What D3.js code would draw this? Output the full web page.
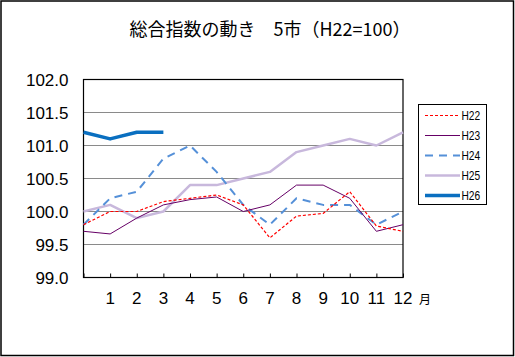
<!DOCTYPE html>
<html><head><meta charset="utf-8">
<script src="https://cdn.jsdelivr.net/npm/d3@7"></script>
<style>
html,body{margin:0;padding:0;background:#fff;}
svg{display:block;}
text{font-family:"Liberation Sans","Noto Sans CJK JP",sans-serif;}
</style></head>
<body>
<script>
const months = [0,1,2,3,4,5,6,7,8,9,10,11,12];
const xTickLabels = ["","1","2","3","4","5","6","7","8","9","10","11","12"];
const yTicks = [99.0,99.5,100.0,100.5,101.0,101.5,102.0];
const seriesNames = ["H22","H23","H24","H25","H26"];
const H22 = [99.8,100.0,100.0,100.15,100.2,100.25,100.1,99.6,99.93,99.97,100.3,99.78,99.7];
const H23 = [99.7,99.66,99.9,100.1,100.18,100.22,100.0,100.1,100.4,100.4,100.2,99.7,99.8];
const H24 = [99.8,100.2,100.3,100.8,101.0,100.6,100.1,99.8,100.2,100.1,100.1,99.8,100.0];
const H25 = [100.0,100.1,99.9,100.0,100.4,100.4,100.5,100.6,100.9,101.0,101.1,101.0,101.2];
const H26 = [101.2,101.1,101.2,101.2];
const title = "総合指数の動き　5市（H22=100）";

const styles = {
  H22:{color:"#ff0000",width:1.2,dash:"3,2"},
  H23:{color:"#660066",width:1,dash:null},
  H24:{color:"#5590d8",width:2,dash:"8,6"},
  H25:{color:"#c8b8dc",width:2.5,dash:null},
  H26:{color:"#0a6fc0",width:3.5,dash:null}
};
const data = {H22,H23,H24,H25,H26};

const W=515,H=357;
const svg=d3.select("body").append("svg").attr("width",W).attr("height",H);
svg.append("rect").attr("x",1).attr("y",1).attr("width",512.5).attr("height",354.5)
  .attr("fill","#fff").attr("stroke","#000").attr("stroke-width",1.5);

const L=83.5,R=403,T=79.5,B=277.5;
const x=d3.scaleLinear().domain([0,12]).range([L,R]);
const y=d3.scaleLinear().domain([99,102]).range([B,T]);

svg.append("g").selectAll("line").data(yTicks.filter(v=>v>99&&v<102)).join("line")
  .attr("x1",L).attr("x2",R).attr("y1",d=>y(d)).attr("y2",d=>y(d))
  .attr("stroke","#8a8a8a").attr("stroke-width",1);

svg.append("g").selectAll("text").data(yTicks).join("text")
  .attr("x",68.5).attr("y",d=>y(d)).attr("dy","0.36em").attr("text-anchor","end")
  .attr("font-size",17).text(d=>d.toFixed(1));

const xAxis=d3.axisBottom(x).tickValues(months).tickSize(-4).tickFormat("");
const gx=svg.append("g").attr("transform",`translate(0,${B})`).call(xAxis);
gx.select(".domain").remove();
gx.selectAll("line").attr("stroke","#000");
svg.append("g").selectAll("text").data(months.filter(m=>m>0)).join("text")
  .attr("x",d=>x(d)).attr("y",298).attr("dy","0.36em").attr("text-anchor","middle")
  .attr("font-size",17).text(d=>xTickLabels[d]);
svg.append("text").attr("x",425).attr("y",300).attr("dy","0.36em").attr("text-anchor","middle")
  .attr("font-size",12).style("font-family","'Noto Sans CJK JP'").text("月");

svg.append("rect").attr("x",L).attr("y",T).attr("width",R-L).attr("height",B-T)
  .attr("fill","none").attr("stroke","#000").attr("stroke-width",1.2);

const line=d3.line().x((d,i)=>x(months[i])).y(d=>y(d));
const order=["H25","H24","H23","H22","H26"];
order.forEach(n=>{
  const s=styles[n];
  svg.append("path").datum(data[n]).attr("d",line).attr("fill","none")
    .attr("stroke",s.color).attr("stroke-width",s.width)
    .attr("stroke-dasharray",s.dash).attr("stroke-linejoin","round");
});

svg.append("rect").attr("x",418.5).attr("y",104.5).attr("width",68).attr("height",100)
  .attr("fill","#fff").attr("stroke","#000").attr("stroke-width",1);
seriesNames.forEach((n,i)=>{
  const s=styles[n];
  const yy=115.5+i*20;
  svg.append("line").attr("x1",425).attr("x2",460).attr("y1",yy).attr("y2",yy)
    .attr("stroke",s.color).attr("stroke-width",s.width).attr("stroke-dasharray",s.dash);
  svg.append("text").attr("x",461.5).attr("y",yy).attr("dy","0.36em")
    .attr("font-size",12).attr("transform",`translate(${461.5},0) scale(0.85,1) translate(${-461.5},0)`)
    .text(n);
});

svg.append("text").attr("x",270).attr("y",30).attr("dy","0.36em").attr("text-anchor","middle")
  .attr("font-size",18).style("font-family","'Noto Sans CJK JP'").text(title);
</script>
</body></html>
